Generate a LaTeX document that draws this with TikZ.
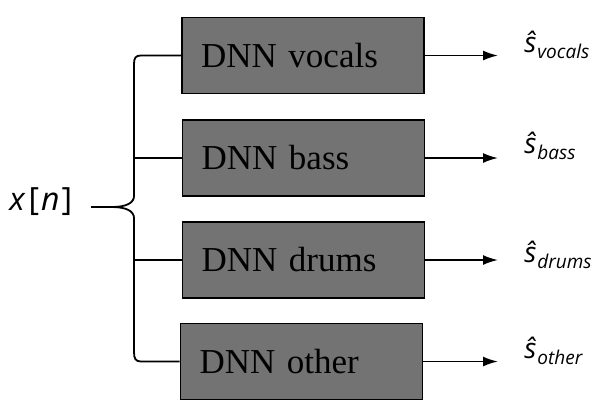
\documentclass[tikz,border=0pt]{standalone}
\usepackage{fontspec}
\setmainfont{Liberation Serif}
\newfontfamily\labelfont{Open Sans}
\usetikzlibrary{arrows.meta}

\definecolor{boxgray}{RGB}{115,115,115}

\tikzset{
    dnnbox/.style={draw=black, line width=0.8pt, fill=boxgray,
        minimum width=121pt, minimum height=38pt, text width=102pt,
        inner xsep=9.5pt, align=left, font=\fontsize{17.5}{20}\selectfont},
    outarrow/.style={line width=0.9pt, -{Latex[length=7.5pt,width=5pt]}},
    splitline/.style={line width=0.9pt},
    estlabel/.style={anchor=base west, inner sep=0pt,
        font=\labelfont\itshape\fontsize{14}{16}\selectfont},
}

\newcommand{\estsub}[1]{\kern0.5pt\raisebox{-3pt}{\fontsize{9.5}{11}\selectfont #1}}

\begin{document}
\begin{tikzpicture}[x=0.5pt, y=-0.5pt]
    \useasboundingbox (0,0) rectangle (609,414);

    % Separation networks
    \node[dnnbox] (vocals) at (303,55.5) {DNN vocals};
    \node[dnnbox] (bass) at (303.5,158) {DNN bass};
    \node[dnnbox] (drums) at (303.5,260) {DNN drums};
    \node[dnnbox] (other) at (301.5,361.5) {DNN other};

    % Mixture input
    \node[anchor=base west, inner sep=0pt, font=\labelfont\fontsize{16}{18}\selectfont]
        (xin) at (9,210) {\textit{x}\kern1.5pt[\kern1pt\textit{n}\kern1pt]};

    % Brace that splits the input
    \coordinate (spine) at (134,0);
    \coordinate (tip) at (498,0);
    \draw[splitline] (vocals.west) -- (141,55.5)
        .. controls (135.5,55.5) and (134,58) .. (134,64) -- (134,196)
        .. controls (134,203) and (126,207) .. (112,207) -- (91,207);
    \draw[splitline] (112,207)
        .. controls (126,207) and (134,211) .. (134,218) -- (134,352)
        .. controls (134,358.5) and (135.5,361.5) .. (141,361.5) -- (other.west);
    \draw[splitline] (bass.west -| spine) -- (bass.west);
    \draw[splitline] (drums.west -| spine) -- (drums.west);

    % Estimated sources
    \foreach \src in {vocals, bass, drums, other} {
        \draw[outarrow] (\src.east) -- (\src.east -| tip);
    }
    \node[estlabel] (svocals) at (524,52) {\^{s}\estsub{vocals}};
    \node[estlabel] (sbass) at (524,153) {\^{s}\estsub{bass}};
    \node[estlabel] (sdrums) at (524,262) {\^{s}\estsub{drums}};
    \node[estlabel] (sother) at (524,358) {\^{s}\estsub{other}};
\end{tikzpicture}
\end{document}
